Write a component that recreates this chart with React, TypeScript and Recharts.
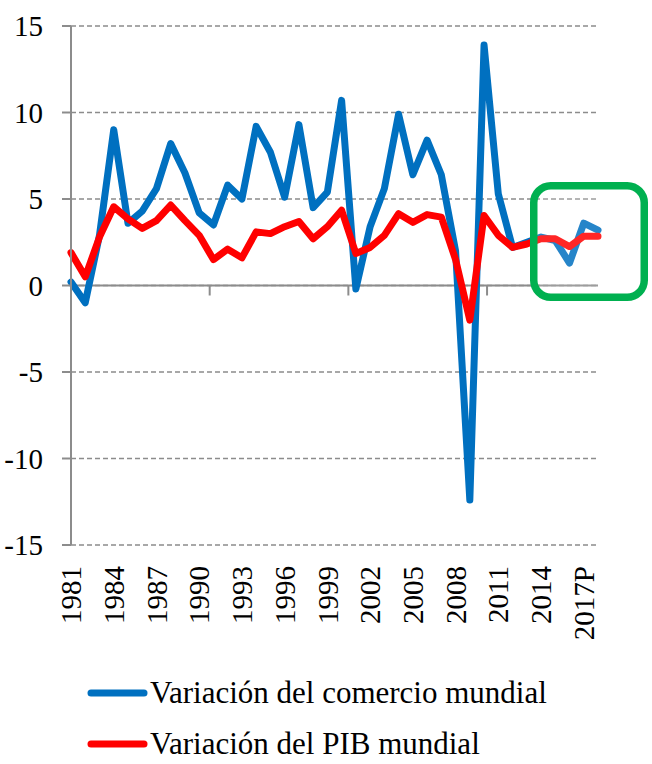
import { CartesianGrid, Line, LineChart, ReferenceLine, XAxis, YAxis } from 'recharts'

const years = [
  '1981', '1982', '1983', '1984', '1985', '1986', '1987', '1988', '1989', '1990',
  '1991', '1992', '1993', '1994', '1995', '1996', '1997', '1998', '1999', '2000',
  '2001', '2002', '2003', '2004', '2005', '2006', '2007', '2008', '2009', '2010',
  '2011', '2012', '2013', '2014', '2015', '2016', '2017P', '2018P'
]

// variación anual del comercio mundial (%)
const comercio = [
  0.2, -1.0, 2.9, 9.0, 3.6, 4.3, 5.6, 8.2, 6.5, 4.2,
  3.5, 5.8, 5.0, 9.2, 7.7, 5.1, 9.3, 4.5, 5.4, 10.7,
  -0.2, 3.4, 5.6, 9.9, 6.4, 8.4, 6.4, 2.0, -12.4, 13.9,
  5.3, 2.2, 2.5, 2.8, 2.6, 1.3, 3.6, 3.2
]

// variación anual del PIB mundial (%)
const pib = [
  1.9, 0.5, 2.8, 4.55, 3.85, 3.3, 3.75, 4.65, 3.75, 2.9,
  1.5, 2.1, 1.6, 3.1, 3.0, 3.4, 3.7, 2.7, 3.4, 4.35,
  1.85, 2.2, 2.9, 4.15, 3.65, 4.1, 3.95, 1.5, -2.0, 4.05,
  2.9, 2.2, 2.4, 2.7, 2.7, 2.25, 2.85, 2.85
]

const yTicks = [-15, -10, -5, 0, 5, 10, 15]
const seriesNames = ['Variación del comercio mundial', 'Variación del PIB mundial']

const data = years.map((year, i) => ({ year, comercio: comercio[i], pib: pib[i] }))

const FONT = 'Liberation Serif, Times New Roman, Times, DejaVu Serif, serif'
const AXIS_GRAY = '#8c8c8c'
const BLUE = '#0070c0'
const RED = '#ff0000'

function YearTick({ x, y, payload }: any) {
  const top = y + 21
  return (
    <text
      x={x}
      y={top}
      dy="0.35em"
      transform={`rotate(-90, ${x}, ${top})`}
      textAnchor="end"
      style={{ fontFamily: FONT }}
      fontSize={29}
      fill="#000"
    >
      {payload.value}
    </text>
  )
}

// eje horizontal en cero con marcas cada 10 categorías
function ZeroAxis(props: any) {
  const { x1, x2, y1 } = props
  const step = (x2 - x1) / years.length
  const marks = [0, 10, 20, 30].map((i) => x1 + i * step)
  return (
    <g>
      <line x1={x1} x2={x2} y1={y1} y2={y1} stroke={AXIS_GRAY} strokeWidth={2} />
      {marks.map((mx) => (
        <line key={mx} x1={mx} x2={mx} y1={y1} y2={y1 + 10} stroke={AXIS_GRAY} strokeWidth={2} />
      ))}
    </g>
  )
}

export default function App() {
  return (
    <div style={{ position: 'absolute', left: 0, top: 0, width: 652, height: 764, background: '#fff', fontFamily: FONT }}>
      <LineChart width={652} height={660} data={data} margin={{ top: 26, right: 54, bottom: 0, left: 0 }}>
        <CartesianGrid vertical={false} stroke={AXIS_GRAY} strokeDasharray="5 3" strokeWidth={1.5} />
        <XAxis
          dataKey="year"
          height={115}
          interval={2}
          axisLine={false}
          tickLine={false}
          tickSize={0}
          tickMargin={0}
          tick={<YearTick />}
        />
        <YAxis
          width={71}
          domain={[-15, 15]}
          ticks={yTicks}
          interval={0}
          axisLine={{ stroke: AXIS_GRAY, strokeWidth: 2 }}
          tickLine={{ stroke: AXIS_GRAY, strokeWidth: 2 }}
          tickSize={9}
          tickMargin={19}
          tick={{ fill: '#000', fontSize: 29, style: { fontFamily: FONT } }}
        />
        <ReferenceLine y={0} shape={<ZeroAxis />} />
        <Line
          type="linear"
          dataKey="comercio"
          name={seriesNames[0]}
          stroke={BLUE}
          strokeWidth={7}
          strokeLinejoin="round"
          strokeLinecap="round"
          dot={false}
          isAnimationActive={false}
        />
        <Line
          type="linear"
          dataKey="pib"
          name={seriesNames[1]}
          stroke={RED}
          strokeWidth={7}
          strokeLinejoin="round"
          strokeLinecap="round"
          dot={false}
          isAnimationActive={false}
        />
      </LineChart>

      {/* recuadro verde de anotación */}
      <svg width={652} height={764} style={{ position: 'absolute', left: 0, top: 0, pointerEvents: 'none' }}>
        <rect x={533.75} y={185.75} width={110.5} height={111.5} rx={17} fill="rgba(255,255,255,0.15)" stroke="#00b050" strokeWidth={7.5} />
      </svg>

      <svg width={652} height={104} style={{ position: 'absolute', left: 0, top: 658 }}>
        {seriesNames.map((name, i) => {
          const cy = 35 + i * 51
          return (
            <g key={name}>
              <line x1={91} x2={144} y1={cy} y2={cy} stroke={i === 0 ? BLUE : RED} strokeWidth={7} strokeLinecap="round" />
              <text x={150} y={cy + 10} style={{ fontFamily: FONT }} fontSize={31} fill="#000">
                {name}
              </text>
            </g>
          )
        })}
      </svg>
    </div>
  )
}
